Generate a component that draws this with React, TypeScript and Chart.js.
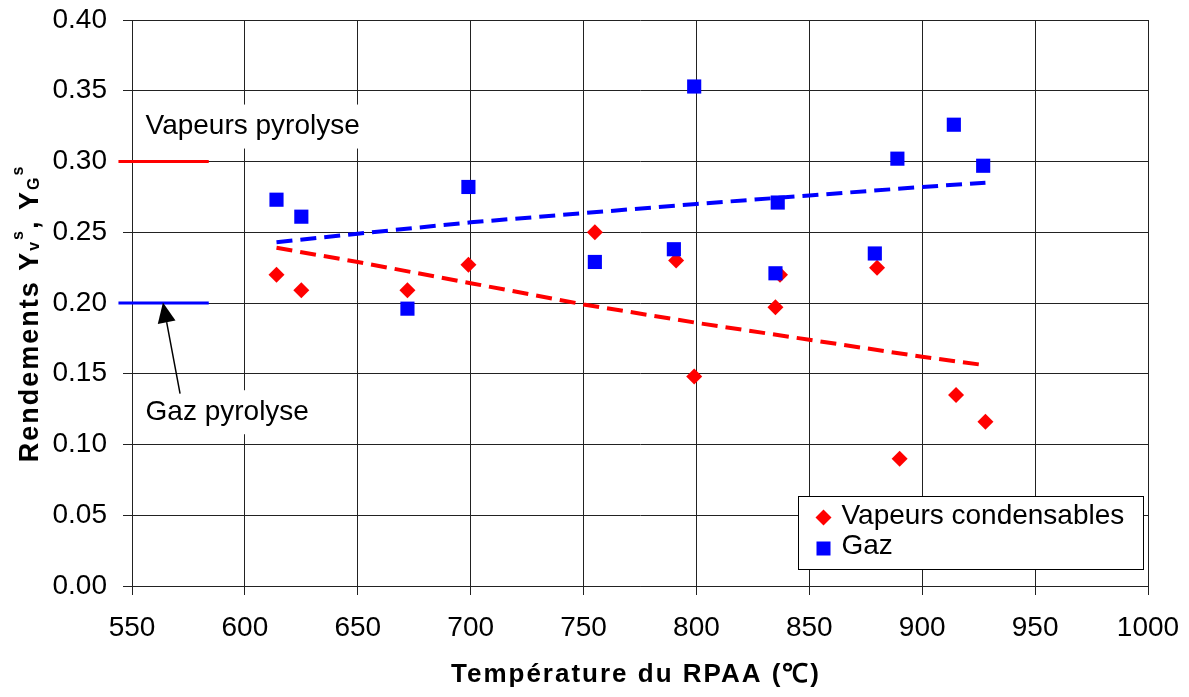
import { useEffect, useRef } from "react";
import { Chart, registerables } from "chart.js";

Chart.register(...registerables);

// ---- Data ----
const vapTemps = [614, 625, 672, 699, 755, 791, 799, 835, 837, 880, 890, 915, 928];
const vapYields = [0.220, 0.209, 0.209, 0.227, 0.250, 0.230, 0.148, 0.197, 0.220, 0.225, 0.090, 0.135, 0.116];
const gazTemps = [614, 625, 672, 699, 755, 790, 799, 835, 836, 879, 889, 914, 927];
const gazYields = [0.273, 0.261, 0.196, 0.282, 0.229, 0.238, 0.353, 0.221, 0.271, 0.235, 0.302, 0.326, 0.297];
const trendTemps = [614, 650, 700, 750, 800, 850, 900, 928];
const vapTrend = [0.239, 0.229, 0.214, 0.199, 0.186, 0.174, 0.162, 0.156];
const gazTrend = [0.243, 0.249, 0.257, 0.2635, 0.270, 0.276, 0.282, 0.285];
const pyroRefTemps = [544, 584];
const vapPyrolyse = 0.30;
const gazPyrolyse = 0.20;
const labelVapPyro = { text: "Vapeurs pyrolyse", t: 556, v: 0.3247 };
const labelGazPyro = { text: "Gaz pyrolyse", t: 556, v: 0.1228 };
const arrowFrom = { t: 571.3, v: 0.136 };
const arrowTo = { t: 563.7, v: 0.2003 };
const seriesNames = ["Vapeurs condensables", "Gaz"];
const xTitle = "Température du RPAA (℃)";

const RED = "#FF0000";
const BLUE = "#0000FF";
const GRID = "#222";
const FONT = '"Liberation Sans", Arial, Helvetica, sans-serif';

const toPts = (xs: number[], ys: number[]) => xs.map((x, i) => ({ x, y: ys[i] }));

const annotPlugin = {
  id: "annot",
  beforeDatasetsDraw(chart: any) {
    const { ctx, scales } = chart;
    const x = scales.x;
    const y = scales.y;
    ctx.save();
    // reference lines
    const refs = [
      { v: vapPyrolyse, c: RED },
      { v: gazPyrolyse, c: BLUE },
    ];
    for (const r of refs) {
      ctx.beginPath();
      ctx.strokeStyle = r.c;
      ctx.lineWidth = 3;
      const py = y.getPixelForValue(r.v);
      ctx.moveTo(x.getPixelForValue(pyroRefTemps[0]), py);
      ctx.lineTo(x.getPixelForValue(pyroRefTemps[1]), py);
      ctx.stroke();
    }
    // labels with white boxes
    ctx.font = `28px ${FONT}`;
    ctx.textBaseline = "middle";
    ctx.textAlign = "left";
    for (const l of [labelVapPyro, labelGazPyro]) {
      const lx = x.getPixelForValue(l.t);
      const ly = y.getPixelForValue(l.v);
      const w = ctx.measureText(l.text).width;
      ctx.fillStyle = "#FFFFFF";
      ctx.fillRect(lx - 8, ly - 22, w + 16, 44);
      ctx.fillStyle = "#000000";
      ctx.fillText(l.text, lx, ly);
    }
    // arrow
    const ax0 = x.getPixelForValue(arrowFrom.t);
    const ay0 = y.getPixelForValue(arrowFrom.v);
    const ax1 = x.getPixelForValue(arrowTo.t);
    const ay1 = y.getPixelForValue(arrowTo.v);
    const dx = ax1 - ax0;
    const dy = ay1 - ay0;
    const len = Math.hypot(dx, dy);
    const ux = dx / len;
    const uy = dy / len;
    const hl = 20;
    const hw = 9;
    const bx = ax1 - ux * hl;
    const by = ay1 - uy * hl;
    ctx.strokeStyle = "#000";
    ctx.lineWidth = 1.5;
    ctx.beginPath();
    ctx.moveTo(ax0, ay0);
    ctx.lineTo(bx, by);
    ctx.stroke();
    ctx.fillStyle = "#000";
    ctx.beginPath();
    ctx.moveTo(ax1, ay1);
    ctx.lineTo(bx - uy * hw, by + ux * hw);
    ctx.lineTo(bx + uy * hw, by - ux * hw);
    ctx.closePath();
    ctx.fill();
    ctx.restore();
  },
  afterDraw(chart: any) {
    const { ctx, chartArea } = chart;
    ctx.save();
    // legend box
    const bw = 345;
    const bh = 73;
    const bxr = chartArea.right - 5;
    const byb = chartArea.bottom - 17;
    const lx = Math.round(bxr - bw) + 0.5;
    const ly = Math.round(byb - bh) + 0.5;
    ctx.fillStyle = "#FFFFFF";
    ctx.fillRect(lx, ly, bw, bh);
    ctx.strokeStyle = "#000";
    ctx.lineWidth = 1;
    ctx.strokeRect(lx, ly, bw, bh);
    // entries
    const mx = lx + 25;
    const r1 = ly + 21;
    const r2 = ly + 52;
    ctx.fillStyle = RED;
    ctx.beginPath();
    ctx.moveTo(mx, r1 - 8);
    ctx.lineTo(mx + 8, r1);
    ctx.lineTo(mx, r1 + 8);
    ctx.lineTo(mx - 8, r1);
    ctx.closePath();
    ctx.fill();
    ctx.fillStyle = BLUE;
    ctx.fillRect(mx - 7, r2 - 7, 14, 14);
    ctx.fillStyle = "#000";
    ctx.font = `28px ${FONT}`;
    ctx.textBaseline = "middle";
    ctx.textAlign = "left";
    ctx.fillText(seriesNames[0], lx + 43, r1 - 1);
    ctx.fillText(seriesNames[1], lx + 43, r2 - 2);

    // x title
    ctx.font = `bold 26px ${FONT}`;
    (ctx as any).letterSpacing = "2px";
    ctx.textAlign = "center";
    ctx.textBaseline = "alphabetic";
    ctx.fillText(xTitle, 636, 682);

    // y title with sub/superscripts
    const main = `bold 27px ${FONT}`;
    const small = `bold 16px ${FONT}`;
    const segs = [
      { t: "Rendements Y", f: main, dy: 0 },
      { t: "v", f: small, dy: 1 },
      { t: "s", f: small, dy: -15 },
      { t: ", Y", f: main, dy: 0 },
      { t: "G", f: small, dy: 1 },
      { t: "s", f: small, dy: -15 },
    ];
    ctx.translate(37.5, 313.5);
    ctx.rotate(-Math.PI / 2);
    ctx.textAlign = "left";
    let total = 0;
    const widths: number[] = [];
    for (const s of segs) {
      ctx.font = s.f;
      const w = ctx.measureText(s.t).width;
      widths.push(w);
      total += w;
    }
    let cx = -total / 2;
    segs.forEach((s, i) => {
      ctx.font = s.f;
      ctx.fillText(s.t, cx, s.dy);
      cx += widths[i];
    });
    ctx.restore();
  },
};

export default function App() {
  const ref = useRef<HTMLCanvasElement>(null);
  useEffect(() => {
    document.body.style.margin = "0";
    const tickFont = { family: FONT, size: 28 };
    const chart = new Chart(ref.current as HTMLCanvasElement, {
      type: "scatter",
      data: {
        datasets: [
          {
            label: seriesNames[1],
            data: toPts(gazTemps, gazYields),
            pointStyle: "rect",
            pointRadius: 10,
            pointHoverRadius: 10,
            backgroundColor: BLUE,
            borderColor: BLUE,
            pointBorderWidth: 0,
            order: 0,
          },
          {
            label: seriesNames[0],
            data: toPts(vapTemps, vapYields),
            pointStyle: "rectRot",
            pointRadius: 8,
            pointHoverRadius: 8,
            backgroundColor: RED,
            borderColor: RED,
            pointBorderWidth: 0,
            order: 1,
          },
          {
            label: "trend gaz",
            data: toPts(trendTemps, gazTrend),
            showLine: true,
            pointRadius: 0,
            borderColor: BLUE,
            borderWidth: 4,
            borderDash: [16, 8],
            tension: 0,
            order: 2,
          },
          {
            label: "trend vap",
            data: toPts(trendTemps, vapTrend),
            showLine: true,
            pointRadius: 0,
            borderColor: RED,
            borderWidth: 4,
            borderDash: [16, 8],
            tension: 0,
            order: 3,
          },
        ],
      },
      options: {
        animation: false,
        responsive: false,
        events: [],
        layout: { padding: { top: 20, right: 41, left: 0, bottom: 0 } },
        plugins: { legend: { display: false }, tooltip: { enabled: false } },
        scales: {
          x: {
            type: "linear",
            min: 550,
            max: 1000,
            ticks: {
              stepSize: 50,
              font: tickFont,
              color: "#000",
              padding: 16,
              maxRotation: 0,
              autoSkip: false,
              callback: (v: any) => String(v),
            },
            grid: { color: GRID, lineWidth: 1, tickLength: 9, drawTicks: true },
            border: { color: GRID },
            afterFit: (s: any) => {
              s.height = 111;
              s.paddingLeft = 0;
              s.paddingRight = 0;
            },
          },
          y: {
            type: "linear",
            min: 0,
            max: 0.4,
            ticks: {
              stepSize: 0.05,
              font: tickFont,
              color: "#000",
              padding: 16,
              callback: (v: any) => Number(v).toFixed(2),
            },
            grid: { color: GRID, lineWidth: 1, tickLength: 9, drawTicks: true },
            border: { color: GRID },
            afterFit: (s: any) => {
              s.width = 132;
              s.paddingTop = 0;
              s.paddingBottom = 0;
            },
          },
        },
      },
      plugins: [annotPlugin],
    } as any);
    return () => chart.destroy();
  }, []);
  return (
    <div style={{ position: "absolute", left: 0, top: 0, width: 1189, height: 697 }}>
      <canvas ref={ref} width={1189} height={697} style={{ display: "block" }} />
    </div>
  );
}
